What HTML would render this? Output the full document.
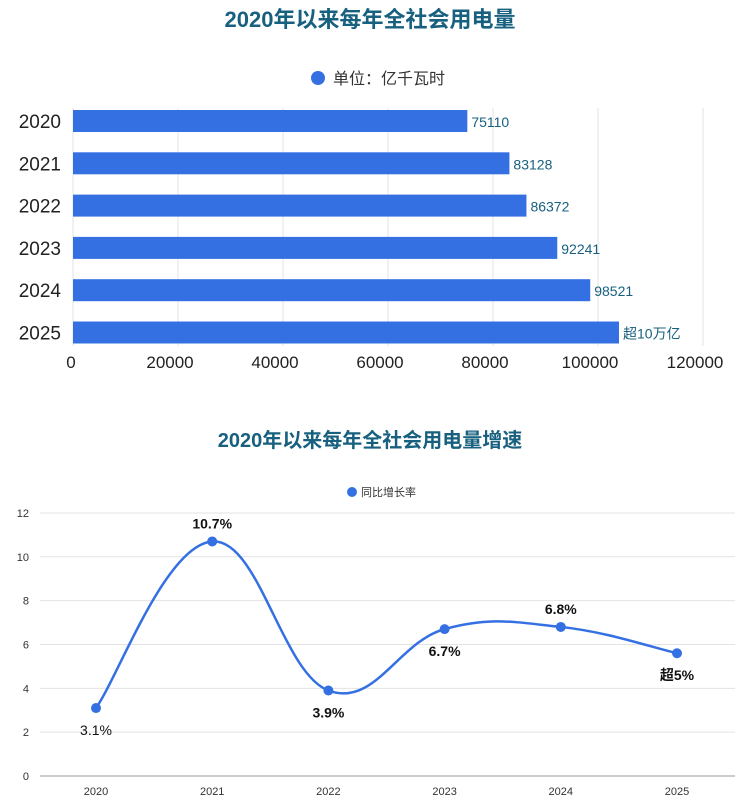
<!DOCTYPE html>
<html><head><meta charset="utf-8"><style>
body{margin:0;background:#fff;width:741px;height:807px;overflow:hidden}
svg{display:block;font-family:"Liberation Sans","Noto Sans CJK SC",sans-serif}
</style></head><body>
<svg id="c" width="741" height="807"></svg>
<script>
const years=["2020","2021","2022","2023","2024","2025"];
const usage=[75110,83128,86372,92241,98521,104000];
const usageLabels=["75110","83128","86372","92241","98521","超10万亿"];
const xTicks=[0,20000,40000,60000,80000,100000,120000];
const growth=[3.1,10.7,3.9,6.7,6.8,5.6];
const growthLabels=["3.1%","10.7%","3.9%","6.7%","6.8%","超5%"];
const yTicks=[0,2,4,6,8,10,12];
const NS="http://www.w3.org/2000/svg";
const svg=document.getElementById('c');
function mk(t,a,txt,p){const e=document.createElementNS(NS,t);for(const k in a)e.setAttribute(k,a[k]);if(txt!=null)e.textContent=txt;(p||svg).appendChild(e);return e;}
const BLUE="#3570e3",TEAL="#17607f";
let t=mk('text',{x:370,y:27,'text-anchor':'middle','font-size':22,'font-weight':'bold',fill:TEAL},'2020年以来每年全社会用电量');

let lg=mk('circle',{cx:318,cy:78,r:7,fill:BLUE});

t=mk('text',{x:333,y:84,'font-size':16,fill:'#333'},'单位：亿千瓦时');

const bx=v=>73+v*105/20000;
const by=i=>121+i*42.3;
xTicks.forEach(v=>{
 let l=mk('line',{x1:bx(v),x2:bx(v),y1:108,y2:346,stroke:'#e3e3e3'});
 
 let tx=mk('text',{x:v==0?bx(v)-2:bx(v)-8,y:368,'text-anchor':'middle','font-size':17,fill:'#222'},String(v));
 
});
years.forEach((y,i)=>{
 let tx=mk('text',{x:61,y:by(i)+7,'text-anchor':'end','font-size':19,fill:'#222'},y);
 
 let r=mk('rect',{x:73,y:by(i)-11,width:bx(usage[i])-73,height:22,fill:BLUE});
 
 let lb=mk('text',{x:bx(usage[i])+4,y:by(i)+6,'font-size':14,fill:TEAL},usageLabels[i]);
 
});
t=mk('text',{x:370,y:447,'text-anchor':'middle','font-size':20,'font-weight':'bold',fill:TEAL},'2020年以来每年全社会用电量增速');

lg=mk('circle',{cx:352,cy:492,r:5,fill:BLUE});

t=mk('text',{x:361,y:496,'font-size':11,fill:'#333'},'同比增长率');

const lx=i=>96+i*116.2;
const ly=v=>776-v*21.92;
yTicks.forEach(v=>{
 let l=mk('line',{x1:40,x2:735,y1:ly(v),y2:ly(v),stroke:v==0?'#999':'#e3e3e3'});
 
 let tx=mk('text',{x:29,y:ly(v)+4,'text-anchor':'end','font-size':11,fill:'#333'},String(v));
 
});
years.forEach((y,i)=>{
 let tx=mk('text',{x:lx(i),y:795,'text-anchor':'middle','font-size':11,fill:'#333'},y);
 
});
const pts=growth.map((v,i)=>[lx(i),ly(v)]);
let d='M'+pts[0][0]+','+pts[0][1];
for(let i=0;i<pts.length-1;i++){
 const p0=pts[Math.max(0,i-1)],p1=pts[i],p2=pts[i+1],p3=pts[Math.min(pts.length-1,i+2)];
 const k=0.2;
 d+=' C'+(p1[0]+(p2[0]-p0[0])*k)+','+(p1[1]+(p2[1]-p0[1])*k)+' '+(p2[0]-(p3[0]-p1[0])*k)+','+(p2[1]-(p3[1]-p1[1])*k)+' '+p2[0]+','+p2[1];
}
let pth=mk('path',{d:d,fill:'none',stroke:BLUE,'stroke-width':2.5});

const above=[false,true,false,false,true,false];
pts.forEach((p,i)=>{
 let c=mk('circle',{cx:p[0],cy:p[1],r:5,fill:BLUE});
 
 let tx=mk('text',{x:p[0],y:above[i]?p[1]-13:p[1]+27,'text-anchor':'middle','font-size':14,'font-weight':i==0?'normal':'bold',fill:'#111'},growthLabels[i]);
 
});
</script>
</body></html>
